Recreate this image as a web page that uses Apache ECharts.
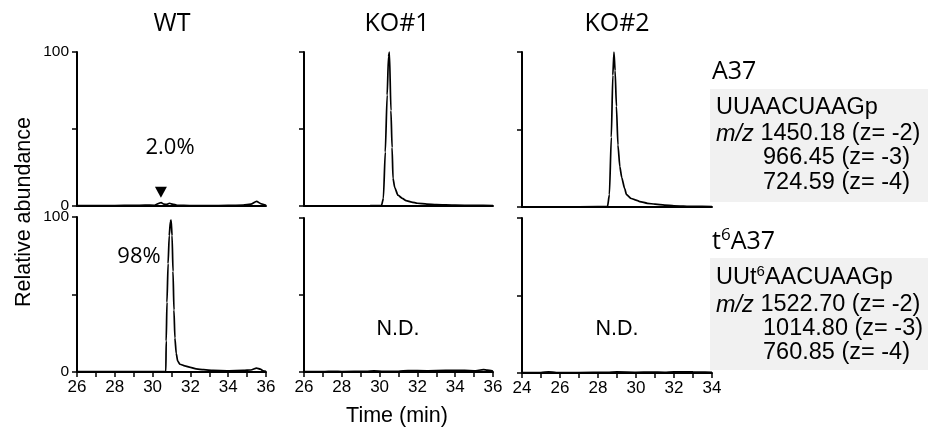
<!DOCTYPE html>
<html>
<head>
<meta charset="utf-8">
<style>
  html, body { margin: 0; padding: 0; background: #fff; }
  #main { width: 930px; height: 430px; }
</style>
<script src="https://cdn.jsdelivr.net/npm/echarts@6/dist/echarts.min.js"></script>
</head>
<body>
<div id="main"></div>
<script>
// chromatogram traces, [time (min), relative abundance]
const wtA37 = [[26, 0.2], [27, 0.2], [28, 0.3], [29, 0.4], [29.6, 0.6], [30.1, 0.5], [30.3, 1.6], [30.45, 2.2], [30.6, 1.2],
  [30.75, 1.0], [30.9, 1.8], [31.05, 1.2], [31.3, 0.5], [32, 0.3], [33, 0.2], [34, 0.4], [34.8, 0.6], [35.2, 1.2],
  [35.5, 3.0], [35.75, 1.4], [36, 0.4]];
const wtT6A37 = [[26, 0.3], [28, 0.3], [29, 0.3], [30, 0.3], [30.7, 0.3], [30.72, 20], [30.76, 45], [30.82, 70],
  [30.88, 88], [30.94, 97], [30.98, 98], [31.03, 88], [31.08, 65], [31.13, 40], [31.18, 22], [31.25, 12], [31.33, 7],
  [31.45, 5], [31.7, 4], [32, 3], [32.3, 2], [32.7, 1.5], [33.2, 1], [34, 0.8], [34.8, 1], [35.2, 1.3], [35.5, 2.5],
  [35.7, 1.8], [35.85, 0.8], [36, 0.5]];
const ko1A37 = [[26, 0.1], [28, 0.1], [29.5, 0.2], [30.1, 0.3], [30.2, 5], [30.3, 35], [30.4, 72], [30.47, 97],
  [30.52, 100], [30.6, 62], [30.66, 38], [30.71, 18], [30.8, 12], [30.97, 7], [31.2, 5], [31.4, 3.5], [31.7, 2.5],
  [32, 1.8], [32.5, 1.2], [33, 0.9], [34, 0.6], [35, 0.4], [36, 0.3]];
const ko1T6A37 = [[26, 0.2], [27, 0.2], [27.6, 0.5], [28, 0.3], [29.3, 0.4], [29.7, 0.7], [30.2, 0.4], [31, 0.5],
  [31.5, 0.9], [32.5, 0.8], [33.5, 1], [34.5, 1], [35, 0.8], [35.5, 1.5], [35.7, 1.2], [36, 0.6]];
const ko2A37 = [[24, 0.1], [26, 0.1], [28, 0.2], [28.5, 0.3], [28.6, 8], [28.7, 45], [28.78, 85], [28.84, 100],
  [28.9, 88], [28.97, 65], [29.05, 40], [29.15, 26], [29.25, 19], [29.4, 12], [29.5, 8], [29.75, 5.5], [30, 4.5],
  [30.2, 3.5], [30.6, 2.4], [31, 1.8], [31.5, 1.2], [32, 0.8], [33, 0.4], [34, 0.3]];
const ko2T6A37 = [[24, 0.3], [25, 0.3], [25.4, 0.8], [25.8, 0.3], [27, 0.3], [28.5, 0.4], [29, 0.7], [30, 0.5],
  [30.8, 0.6], [31.5, 0.5], [32, 0.8], [33, 0.7], [34, 0.5]];

const yTicks = [0, 50, 100];
const xRangeWT = [26, 36];
const xRangeKO1 = [26, 36];
const xRangeKO2 = [24, 34];

const sans = 'Liberation Sans, Arial, sans-serif';
const calib = 'Open Sans, sans-serif';
const boxFont = '23.5px ' + sans;

const chart = echarts.init(document.getElementById('main'));

// one entry per small panel
const panels = [
  { grid: { left: 77, top: 52, width: 189, height: 154 }, range: xRangeWT, data: wtA37, bottom: false, yLabels: true },
  { grid: { left: 77, top: 217, width: 189, height: 155 }, range: xRangeWT, data: wtT6A37, bottom: true, yLabels: true },
  { grid: { left: 304, top: 52, width: 189, height: 154 }, range: xRangeKO1, data: ko1A37, bottom: false, yLabels: false },
  { grid: { left: 304, top: 218, width: 189, height: 154 }, range: xRangeKO1, data: ko1T6A37, bottom: true, yLabels: false },
  { grid: { left: 522, top: 52, width: 190, height: 155 }, range: xRangeKO2, data: ko2A37, bottom: false, yLabels: false },
  { grid: { left: 522, top: 218, width: 190, height: 155 }, range: xRangeKO2, data: ko2T6A37, bottom: true, yLabels: false }
];

const axisLine = { show: true, lineStyle: { color: '#000', width: 2 } };

const option = {
  backgroundColor: '#fff',
  animation: false,
  grid: panels.map(p => Object.assign({ containLabel: false }, p.grid)),
  xAxis: panels.map((p, i) => ({
    type: 'value',
    gridIndex: i,
    min: p.range[0],
    max: p.range[1],
    interval: 1,
    axisLine: axisLine,
    axisTick: { show: p.bottom, length: 5, lineStyle: { color: '#000', width: 1.5 } },
    axisLabel: {
      show: p.bottom,
      color: '#000',
      fontFamily: sans,
      fontSize: 17,
      margin: 7,
      formatter: v => (v % 2 === 0 ? String(v) : '')
    },
    splitLine: { show: false }
  })),
  yAxis: panels.map((p, i) => ({
    type: 'value',
    gridIndex: i,
    min: yTicks[0],
    max: yTicks[yTicks.length - 1],
    interval: 50,
    axisLine: axisLine,
    axisTick: { show: true, length: 5, lineStyle: { color: '#000', width: 1.5 } },
    axisLabel: {
      show: p.yLabels,
      color: '#000',
      fontFamily: sans,
      fontSize: 15.5,
      margin: 8,
      formatter: v => (v === 50 ? '' : String(v))
    },
    splitLine: { show: false }
  })),
  series: panels.map((p, i) => {
    const s = {
      type: 'line',
      xAxisIndex: i,
      yAxisIndex: i,
      data: p.data,
      showSymbol: false,
      clip: false,
      smooth: 0.2,
      smoothMonotone: 'x',
      lineStyle: { color: '#000', width: 1.7 }
    };
    if (i === 0) {
      s.markPoint = {
        symbol: 'triangle',
        symbolRotate: 180,
        symbolSize: [12, 11],
        itemStyle: { color: '#000' },
        label: { show: false },
        data: [{ coord: [30.44, 9] }]
      };
    }
    return s;
  }),
  graphic: [
    { type: 'text', x: 172, y: 24, style: { text: 'WT', font: '25px ' + calib, fill: '#000', align: 'center', verticalAlign: 'middle' } },
    { type: 'text', x: 397, y: 24, style: { text: 'KO#1', font: '25px ' + calib, fill: '#000', align: 'center', verticalAlign: 'middle' } },
    { type: 'text', x: 617, y: 24, style: { text: 'KO#2', font: '25px ' + calib, fill: '#000', align: 'center', verticalAlign: 'middle' } },
    { type: 'text', x: 170, y: 148, style: { text: '2.0%', font: '22px ' + calib, fill: '#000', align: 'center', verticalAlign: 'middle' } },
    { type: 'text', x: 139, y: 257, style: { text: '98%', font: '22px ' + calib, fill: '#000', align: 'center', verticalAlign: 'middle' } },
    { type: 'text', x: 398, y: 329, style: { text: 'N.D.', font: '21.5px ' + sans, fill: '#000', align: 'center', verticalAlign: 'middle' } },
    { type: 'text', x: 617, y: 329, style: { text: 'N.D.', font: '21.5px ' + sans, fill: '#000', align: 'center', verticalAlign: 'middle' } },
    { type: 'text', x: 24, y: 212, rotation: Math.PI / 2, style: { text: 'Relative abundance', font: '21.5px ' + sans, fill: '#000', align: 'center', verticalAlign: 'middle' } },
    { type: 'text', x: 397, y: 416, style: { text: 'Time (min)', font: '21.5px ' + sans, fill: '#000', align: 'center', verticalAlign: 'middle' } },

    // A37 box
    { type: 'text', x: 712, y: 72, style: { text: 'A37', font: '25px ' + calib, fill: '#000', align: 'left', verticalAlign: 'middle' } },
    { type: 'rect', shape: { x: 710, y: 89, width: 218, height: 113 }, style: { fill: '#f1f1f1' }, z: -1 },
    { type: 'text', x: 716, y: 108, style: { text: 'UUAACUAAGp', font: boxFont, fill: '#000', align: 'left', verticalAlign: 'middle' } },
    { type: 'text', x: 716, y: 134, style: { text: '{i|m/z} 1450.18 (z= -2)', font: boxFont, fill: '#000', align: 'left', verticalAlign: 'middle',
      rich: { i: { fontStyle: 'italic', fontSize: 23.5, fontFamily: sans } } } },
    { type: 'text', x: 763, y: 158, style: { text: '966.45 (z= -3)', font: boxFont, fill: '#000', align: 'left', verticalAlign: 'middle' } },
    { type: 'text', x: 763, y: 183, style: { text: '724.59 (z= -4)', font: boxFont, fill: '#000', align: 'left', verticalAlign: 'middle' } },

    // t6A37 box
    { type: 'text', x: 712, y: 242, style: { text: '{n|t}{s|6}{n|A37}', fill: '#000', align: 'left', verticalAlign: 'middle',
      rich: { n: { fontSize: 25, fontFamily: calib, lineHeight: 30 }, s: { fontSize: 17, fontFamily: calib, verticalAlign: 'top', lineHeight: 30 } } } },
    { type: 'rect', shape: { x: 710, y: 258, width: 218, height: 112 }, style: { fill: '#f1f1f1' }, z: -1 },
    { type: 'text', x: 716, y: 278, style: { text: '{n|UUt}{s|6}{n|AACUAAGp}', fill: '#000', align: 'left', verticalAlign: 'middle',
      rich: { n: { fontSize: 23.5, fontFamily: sans, lineHeight: 27 }, s: { fontSize: 15, fontFamily: sans, verticalAlign: 'top', lineHeight: 27 } } } },
    { type: 'text', x: 716, y: 305, style: { text: '{i|m/z} 1522.70 (z= -2)', font: boxFont, fill: '#000', align: 'left', verticalAlign: 'middle',
      rich: { i: { fontStyle: 'italic', fontSize: 23.5, fontFamily: sans } } } },
    { type: 'text', x: 763, y: 329, style: { text: '1014.80 (z= -3)', font: boxFont, fill: '#000', align: 'left', verticalAlign: 'middle' } },
    { type: 'text', x: 763, y: 353, style: { text: '760.85 (z= -4)', font: boxFont, fill: '#000', align: 'left', verticalAlign: 'middle' } }
  ]
};

chart.setOption(option);
</script>
</body>
</html>
